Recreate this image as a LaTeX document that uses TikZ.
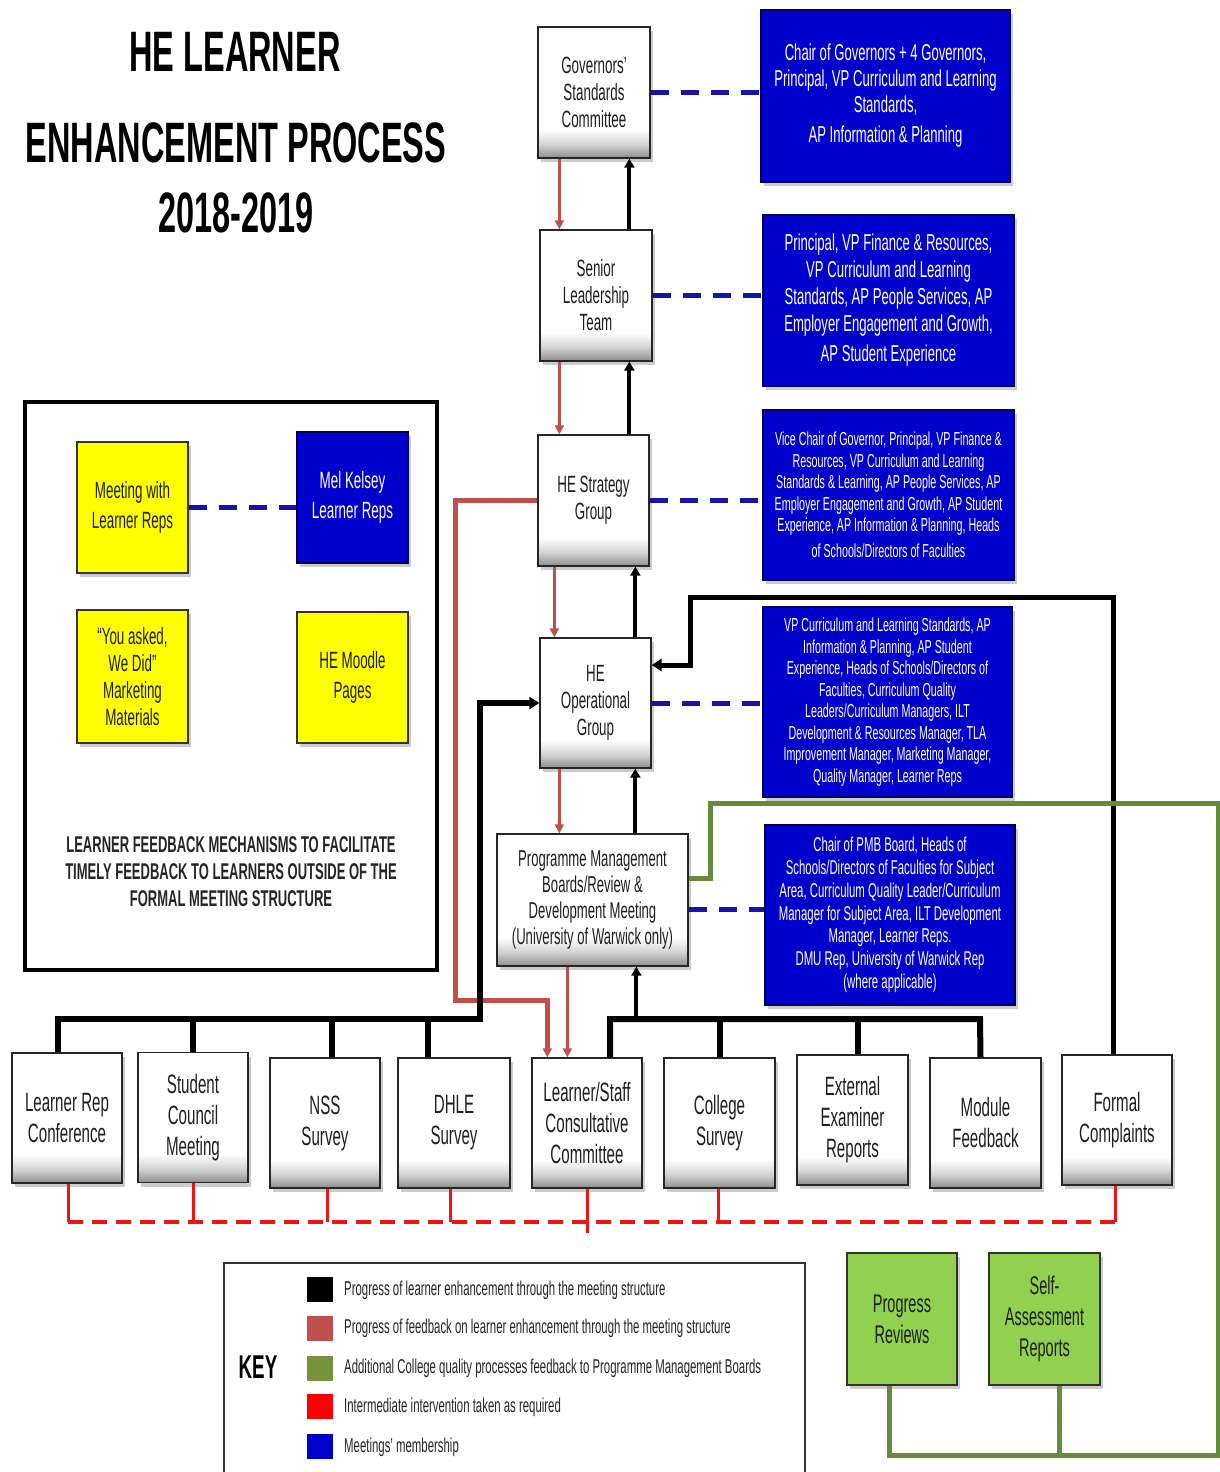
\documentclass[tikz,border=0pt]{standalone}
\usepackage{fontspec}
\setmainfont{Liberation Sans}[FakeStretch=0.57]
\usetikzlibrary{arrows.meta,shadows}
\definecolor{bbl}{RGB}{0,0,204}
\definecolor{bbd}{RGB}{0,0,90}
\definecolor{fbred}{RGB}{192,80,77}
\definecolor{grnl}{RGB}{100,140,60}
\definecolor{keygrn}{RGB}{118,146,60}
\definecolor{lgrn}{RGB}{146,208,80}
\definecolor{ired}{RGB}{240,20,20}
\definecolor{dblue}{RGB}{20,20,170}
\definecolor{yel}{RGB}{255,255,0}
\pgfdeclareverticalshading{wsh}{100bp}{color(0bp)=(black!45); color(25bp)=(black!45); color(30bp)=(black!18); color(36bp)=(white); color(100bp)=(white)}
\newcommand\fsz[2]{\fontsize{#1}{#2}\selectfont}
\begin{document}
\begin{tikzpicture}[x=1pt,y=-1pt,
  shd/.style={drop shadow={shadow xshift=3pt,shadow yshift=-4pt,opacity=0.4}},
  wbox/.style={shd,draw=black!85,line width=1.3pt,shading=wsh,align=center,inner sep=1pt,text=black!88,font=\fsz{23.5}{27}},
  lbox/.style={wbox,minimum width=110pt,minimum height=130pt,font=\fsz{26.5}{31}},
  bluebox/.style={shd,draw=bbd,line width=1.3pt,fill=bbl,text=white,align=center,inner sep=1pt},
  ybox/.style={shd,draw=black!80,line width=1.3pt,fill=yel,align=center,inner sep=1pt,text=black!88,font=\fsz{23.5}{30},minimum width=111pt,minimum height=131pt},
  gbox/.style={shd,draw=black!80,line width=1.3pt,fill=lgrn,align=center,inner sep=1pt,text=black!88,font=\fsz{25.5}{31},minimum height=132pt},
  blk/.style={line width=4pt,black},
  blkarr/.style={blk,-{Triangle[length=9pt,width=10pt]}},
  bar/.style={line width=6pt,black},
  fbk/.style={line width=3pt,fbred,-{Triangle[length=9pt,width=9pt]}},
  fbbig/.style={line width=5pt,fbred},
  grnline/.style={line width=5pt,grnl},
  memb/.style={line width=5pt,dblue,dash pattern=on 18pt off 12pt},
  redsolid/.style={line width=3pt,ired},
  reddash/.style={line width=4pt,ired,dash pattern=on 15pt off 9pt},
  keytxt/.style={anchor=west,font=\fsz{20}{22},text=black!85,inner sep=0pt}
]
\useasboundingbox (0,0) rectangle (1220,1472);
\fill[white] (0,0) rectangle (1220,1472);

% Title
\node[font=\bfseries\fsz{57}{60}] (t1) at (235,52) {HE LEARNER};
\node[font=\bfseries\fsz{57}{60}] (t2) at (236,143) {ENHANCEMENT PROCESS};
\node[font=\bfseries\fsz{57}{60}] (t3) at (236,213) {2018-2019};

% Main chain
\node[wbox,minimum width=112pt,minimum height=131pt] (gov) at (594,92.5) {Governors'\\Standards\\Committee};
\node[wbox,minimum width=112pt,minimum height=131pt] (slt) at (596,295.5) {Senior\\Leadership\\Team};
\node[wbox,minimum width=111pt,minimum height=131pt] (hes) at (593.5,500.5) {HE Strategy\\Group};
\node[wbox,minimum width=111pt,minimum height=130pt] (heo) at (595.5,703) {HE\\Operational\\Group};
\node[wbox,minimum width=191pt,minimum height=132pt,font=\fsz{23}{26}] (pmb) at (592.5,900) {Programme Management\\Boards/Review \&\\Development Meeting\\(University of Warwick only)};

% Membership boxes
\node[bluebox,minimum width=249pt,minimum height=172pt,font=\fsz{23}{26}] (b1) at (885.5,96) {Chair of Governors + 4 Governors,\\Principal, VP Curriculum and Learning\\Standards,\\[4pt]AP Information \& Planning};
\node[bluebox,minimum width=251pt,minimum height=171pt,font=\fsz{23}{27}] (b2) at (888.5,300.5) {Principal, VP Finance \& Resources,\\VP Curriculum and Learning\\Standards, AP People Services, AP\\Employer Engagement and Growth,\\[3pt]AP Student Experience};
\node[bluebox,minimum width=251pt,minimum height=170pt,font=\fsz{18.8}{21.5}] (b3) at (888.5,495) {Vice Chair of Governor, Principal, VP Finance \&\\Resources, VP Curriculum and Learning\\Standards \& Learning, AP People Services, AP\\Employer Engagement and Growth, AP Student\\Experience, AP Information \& Planning, Heads\\[4pt]of Schools/Directors of Faculties};
\node[bluebox,minimum width=249pt,minimum height=190pt,font=\fsz{18.8}{21.5}] (b4) at (887.5,702) {VP Curriculum and Learning Standards, AP\\Information \& Planning, AP Student\\Experience, Heads of Schools/Directors of\\Faculties, Curriculum Quality\\Leaders/Curriculum Managers, ILT\\Development \& Resources Manager, TLA\\Improvement Manager, Marketing Manager,\\Quality Manager, Learner Reps};
\node[bluebox,minimum width=250pt,minimum height=180pt,font=\fsz{20}{22.8}] (b5) at (890,915) {Chair of PMB Board, Heads of\\Schools/Directors of Faculties for Subject\\Area, Curriculum Quality Leader/Curriculum\\Manager for Subject Area, ILT Development\\Manager, Learner Reps.\\DMU Rep, University of Warwick Rep\\(where applicable)};

\draw[memb] (gov.east) -- (gov.east -| b1.west);
\draw[memb] (slt.east) -- (slt.east -| b2.west);
\draw[memb] (hes.east) -- (hes.east -| b3.west);
\draw[memb] (heo.east) -- (heo.east -| b4.west);
\draw[memb] ([yshift=-9pt]pmb.east) -- ([yshift=-9pt]pmb.east -| b5.west);

% Left feedback box
\draw[line width=4pt] (25,402) rectangle (437,970);
\node[ybox] (y1) at (132.5,507.5) {Meeting with\\Learner Reps};
\node[bluebox,minimum width=111pt,minimum height=131pt,font=\fsz{23.5}{30}] (mk) at (352.5,497.5) {Mel Kelsey\\Learner Reps};
\node[ybox,minimum height=133pt,font=\fsz{23.5}{27}] (y2) at (132.5,676.5) {“You asked,\\We Did”\\Marketing\\Materials};
\node[ybox] (y3) at (352.5,677.5) {HE Moodle\\Pages};
\draw[memb] (y1.east) -- (y1.east -| mk.west);
\node[font=\bfseries\fsz{22.8}{27},align=center,text=black!85] (cap) at (231,872) {LEARNER FEEDBACK MECHANISMS TO FACILITATE\\TIMELY FEEDBACK TO LEARNERS OUTSIDE OF THE\\FORMAL MEETING STRUCTURE};

% Bottom row
\node[lbox] (lrc) at (67,1118) {Learner Rep\\Conference};
\node[lbox] (scm) at (193,1117.5) {Student\\Council\\Meeting};
\node[lbox] (nss) at (325,1123) {NSS\\Survey};
\node[lbox,minimum width=112pt] (dhle) at (454,1123) {DHLE\\Survey};
\node[lbox] (lscc) at (587,1123) {Learner/Staff\\Consultative\\Committee};
\node[lbox,minimum width=111pt] (cs) at (719.5,1123) {College\\Survey};
\node[lbox,minimum width=111pt] (eer) at (852.5,1120) {External\\Examiner\\Reports};
\node[lbox,minimum width=111pt] (mf) at (985.5,1123) {Module\\Feedback};
\node[lbox] (fc) at (1117,1120) {Formal\\Complaints};

% Green boxes
\node[gbox,minimum width=110pt] (pr) at (902,1319) {Progress\\Reviews};
\node[gbox,minimum width=111pt] (sar) at (1044.5,1319) {Self-\\Assessment\\Reports};

% Feedback (red) arrows down the chain
\draw[fbk] ([xshift=22pt]gov.south west) -- ([xshift=20pt]slt.north west);
\draw[fbk] ([xshift=20pt]slt.south west) -- ([xshift=22pt]hes.north west);
\draw[fbk] ([xshift=17pt]hes.south west) -- ([xshift=15pt]heo.north west);
\draw[fbk] ([xshift=20pt]heo.south west) -- ([xshift=63pt]pmb.north west);
\draw[fbk] ([xshift=71pt]pmb.south west) -- ([xshift=36pt]lscc.north west);
\draw[fbbig,-{Triangle[length=9pt,width=9pt]}] (hes.west) -| (455,1000) -| ([xshift=16pt]lscc.north west);

% Enhancement (black) arrows up the chain
\draw[blkarr] ([xshift=90pt]slt.north west) -- ([xshift=92pt]gov.south west);
\draw[blkarr] ([xshift=92pt]hes.north west) -- ([xshift=90pt]slt.south west);
\draw[blkarr] ([xshift=96pt]heo.north west) -- ([xshift=98pt]hes.south west);
\draw[blkarr] ([xshift=139pt]pmb.north west) -- ([xshift=96pt]heo.south west);

% Left bar
\coordinate (barL) at (480,1019);
\draw[bar,-{Triangle[length=10pt,width=12pt]}] ([xshift=-9pt]lrc.north) |- (barL) |- (heo.west);
\draw[bar] (scm.north) -- (scm.north |- barL);
\draw[bar] ([xshift=7pt]nss.north) -- ([xshift=7pt]nss.north |- barL);
\draw[bar] ([xshift=-26pt]dhle.north) -- ([xshift=-26pt]dhle.north |- barL);

% Right bar
\coordinate (barR) at (980,1019);
\draw[bar] ([xshift=23pt]lscc.north) |- (barR) -- ([xshift=-5pt]mf.north);
\draw[bar] (cs.north) -- (cs.north |- barR);
\draw[bar] ([xshift=5pt]eer.north) -- ([xshift=5pt]eer.north |- barR);
\draw[blkarr] ([xshift=140pt]pmb.south west |- barR) -- ([xshift=140pt]pmb.south west);

% Formal complaints route
\draw[bar,line width=5pt,-{Triangle[length=10pt,width=12pt]}] ([xshift=-4pt]fc.north) |- (690,597) |- ([yshift=38pt]heo.east);

% Green route
\draw[grnline] ([xshift=43pt]pr.south west) |- (1218,1455) |- (710,803) |- ([yshift=22pt]pmb.east);
\draw[grnline] ([xshift=71pt]sar.south west) -- ++(0,70);

% Intermediate intervention (red)
\coordinate (rd) at (0,1222);
\draw[redsolid] ([xshift=1pt]lrc.south) -- ([xshift=1pt]lrc.south |- rd);
\draw[redsolid] (scm.south) -- (scm.south |- rd);
\draw[redsolid] ([xshift=2pt]nss.south) -- ([xshift=2pt]nss.south |- rd);
\draw[redsolid] ([xshift=-4pt]dhle.south) -- ([xshift=-4pt]dhle.south |- rd);
\draw[redsolid] (lscc.south) -- ++(0,44);
\draw[redsolid] ([xshift=-1.5pt]cs.south) -- ([xshift=-1.5pt]cs.south |- rd);
\draw[redsolid] ([xshift=-2pt]fc.south) -- ([xshift=-2pt]fc.south |- rd);
\draw[reddash] ([xshift=1pt]lrc.south |- rd) -- ([xshift=-2pt]fc.south |- rd);

% Key
\draw[line width=1.5pt,black!80] (224,1474) -- (224,1263) -- (805,1263) -- (805,1474);
\node[font=\bfseries\fsz{33}{35}] (keyt) at (258,1367) {KEY};
\fill[black] (307,1277) rectangle (333,1302);
\fill[fbred] (307,1316) rectangle (333,1341);
\fill[keygrn] (307,1356) rectangle (333,1381);
\fill[red] (307,1394) rectangle (333,1419);
\fill[bbl] (307,1434) rectangle (333,1459);
\node[keytxt] (k1) at (344,1290) {Progress of learner enhancement through the meeting structure};
\node[keytxt] (k2) at (344,1328) {Progress of feedback on learner enhancement through the meeting structure};
\node[keytxt] (k3) at (344,1368) {Additional College quality processes feedback to Programme Management Boards};
\node[keytxt] (k4) at (344,1407) {Intermediate intervention taken as required};
\node[keytxt] (k5) at (344,1447) {Meetings' membership};
\end{tikzpicture}
\end{document}
